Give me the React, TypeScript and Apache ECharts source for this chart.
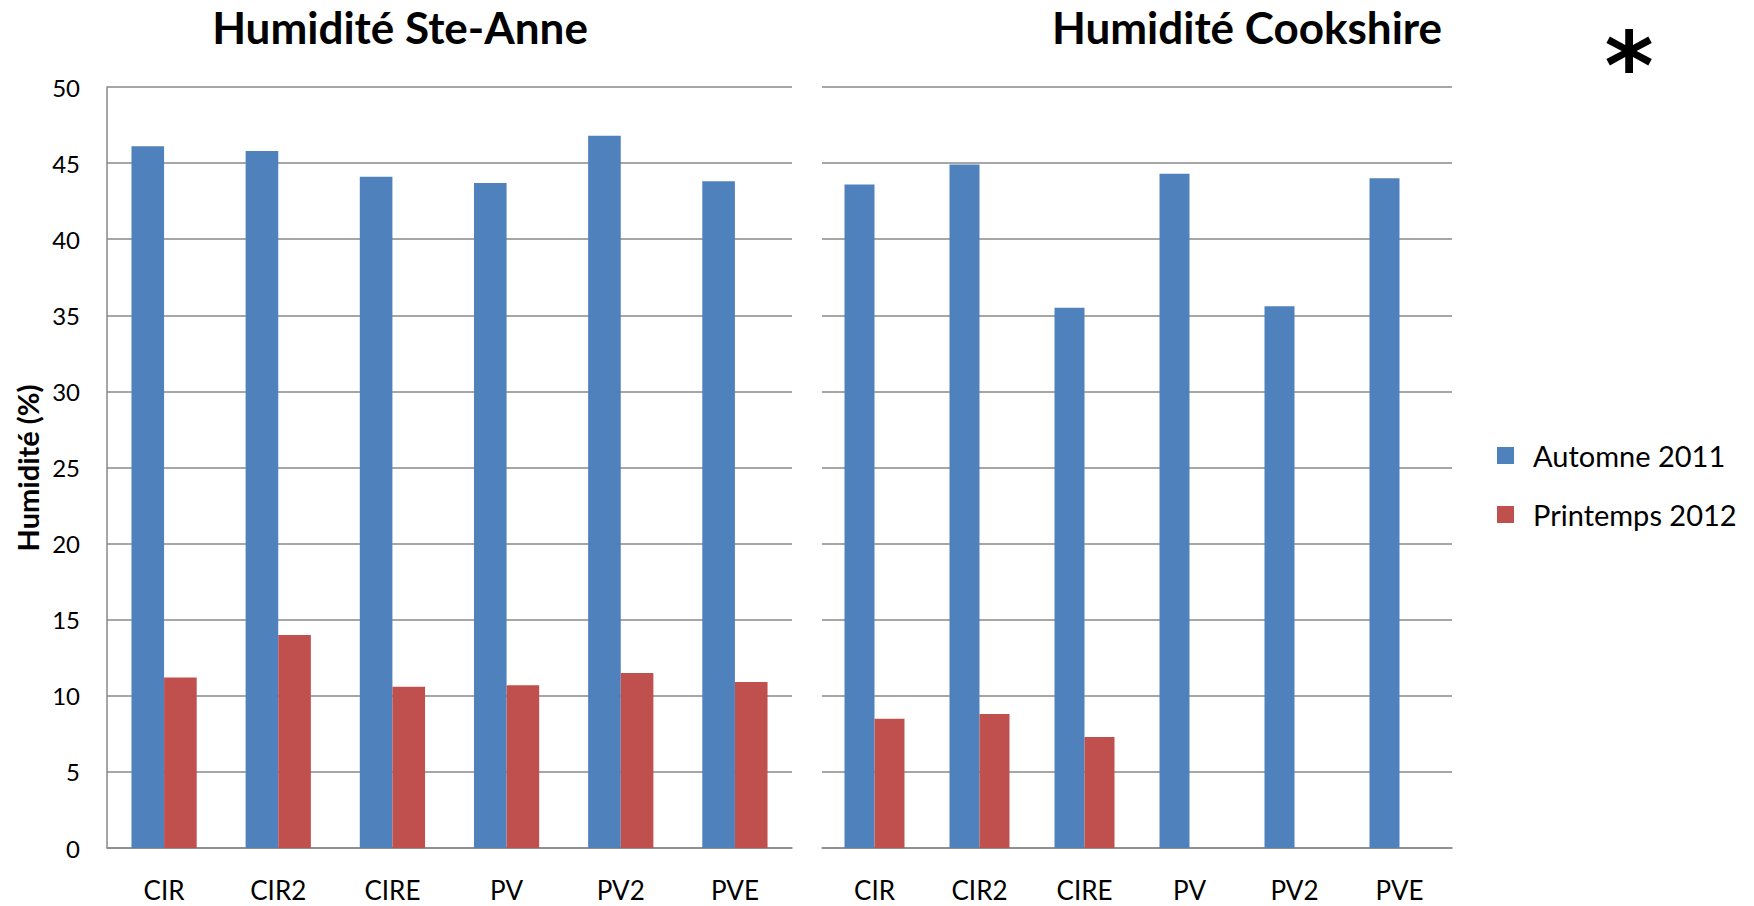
import { useEffect, useRef } from "react";
import * as echarts from "echarts";

const categories = ["CIR", "CIR2", "CIRE", "PV", "PV2", "PVE"];
const seriesNames = ["Automne 2011", "Printemps 2012"];

// Ste-Anne
const steAnneAutomne = [46.1, 45.8, 44.1, 43.7, 46.8, 43.8];
const steAnnePrintemps = [11.2, 14.0, 10.6, 10.7, 11.5, 10.9];

// Cookshire (no spring values for PV, PV2, PVE)
const cookshireAutomne = [43.6, 44.9, 35.5, 44.3, 35.6, 44.0];
const cookshirePrintemps = [8.5, 8.8, 7.3, null, null, null];

const yMin = 0;
const yMax = 50;
const yStep = 5;

const FONT = "Lato, 'Open Sans', sans-serif";
const BLUE = "#4F81BD";
const RED = "#C0504D";
const GRID_LINE = "#898989";

export default function App() {
  const chartRef = useRef<HTMLDivElement>(null);

  useEffect(() => {
    if (!chartRef.current) return;
    const chart = echarts.init(chartRef.current, null, { renderer: "svg" });

    const xAxisBase = {
      type: "category",
      data: categories,
      axisTick: { show: false },
      axisLine: { lineStyle: { color: GRID_LINE, width: 1.5 } },
      axisLabel: { color: "#000", fontSize: 26, fontFamily: FONT, margin: 29 },
    };
    const yAxisBase = {
      type: "value",
      min: yMin,
      max: yMax,
      interval: yStep,
      splitLine: { lineStyle: { color: GRID_LINE, width: 1.5 } },
      axisTick: { show: false },
    };
    const barBase = {
      type: "bar",
      barGap: "0%",
      barCategoryGap: "42.86%",
    };

    chart.setOption({
      animation: false,
      backgroundColor: "#fff",
      textStyle: { fontFamily: FONT },
      color: [BLUE, RED],
      grid: [
        { left: 107, right: 1754 - 792, top: 87, bottom: 906 - 848 },
        { left: 822, right: 1754 - 1452, top: 87, bottom: 906 - 848 },
      ],
      xAxis: [
        { ...xAxisBase, gridIndex: 0 },
        { ...xAxisBase, gridIndex: 1 },
      ],
      yAxis: [
        {
          ...yAxisBase,
          gridIndex: 0,
          axisLine: { show: true, lineStyle: { color: GRID_LINE, width: 1.5 } },
          axisLabel: { color: "#000", fontSize: 24, fontFamily: FONT, margin: 27 },
        },
        {
          ...yAxisBase,
          gridIndex: 1,
          axisLine: { show: false },
          axisLabel: { show: false },
        },
      ],
      legend: {
        data: seriesNames,
        orient: "vertical",
        left: 1492,
        top: 436,
        itemWidth: 17,
        itemHeight: 17,
        itemGap: 30,
        icon: "rect",
        textStyle: {
          color: "#000",
          fontSize: 29,
          fontFamily: FONT,
          padding: [0, 0, 0, 14],
        },
      },
      series: [
        { ...barBase, name: seriesNames[0], xAxisIndex: 0, yAxisIndex: 0, data: steAnneAutomne, itemStyle: { color: BLUE } },
        { ...barBase, name: seriesNames[1], xAxisIndex: 0, yAxisIndex: 0, data: steAnnePrintemps, itemStyle: { color: RED } },
        { ...barBase, name: seriesNames[0], xAxisIndex: 1, yAxisIndex: 1, data: cookshireAutomne, itemStyle: { color: BLUE } },
        { ...barBase, name: seriesNames[1], xAxisIndex: 1, yAxisIndex: 1, data: cookshirePrintemps, itemStyle: { color: RED } },
      ],
      graphic: [
        {
          type: "text",
          x: 400,
          y: 27,
          style: {
            text: "Humidité Ste-Anne",
            fontSize: 44,
            fontWeight: "bold",
            fontFamily: FONT,
            fill: "#000",
            textAlign: "center",
            textVerticalAlign: "middle",
          },
        },
        {
          type: "text",
          x: 1247,
          y: 27,
          style: {
            text: "Humidité Cookshire",
            fontSize: 44,
            fontWeight: "bold",
            fontFamily: FONT,
            fill: "#000",
            textAlign: "center",
            textVerticalAlign: "middle",
          },
        },
        {
          type: "text",
          x: 27,
          y: 468,
          rotation: Math.PI / 2,
          style: {
            text: "Humidité (%)",
            fontSize: 29,
            fontWeight: "bold",
            fontFamily: FONT,
            fill: "#000",
            textAlign: "center",
            textVerticalAlign: "middle",
          },
        },
        {
          type: "text",
          x: 1629,
          y: 66,
          style: {
            text: "*",
            fontSize: 94,
            fontWeight: "bold",
            fontFamily: "'DejaVu Sans', sans-serif",
            fill: "#000",
            textAlign: "center",
            textVerticalAlign: "middle",
          },
        },
      ],
    });

    return () => chart.dispose();
  }, []);

  return (
    <div
      ref={chartRef}
      style={{ position: "absolute", left: 0, top: 0, width: 1754, height: 906 }}
    />
  );
}
